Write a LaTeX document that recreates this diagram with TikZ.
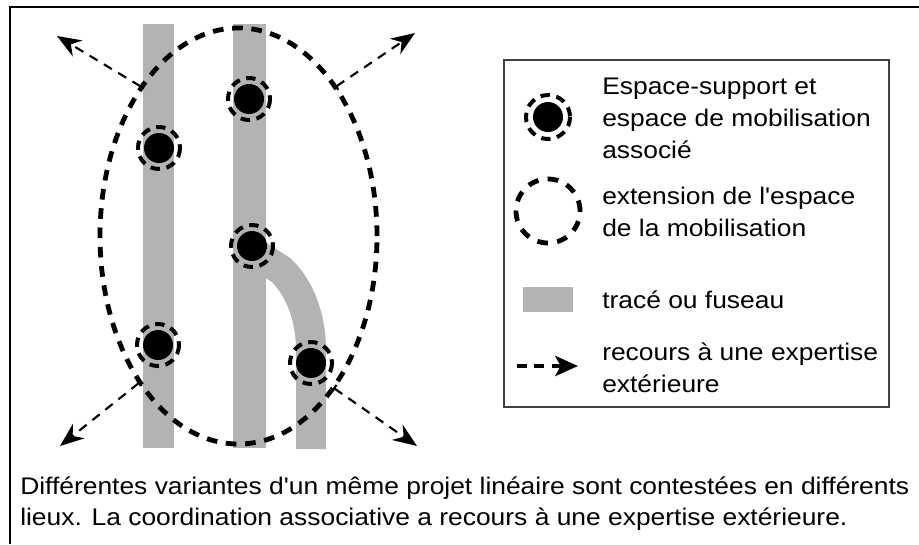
\documentclass[tikz,border=0pt]{standalone}
\usepackage{fontspec}
\setmainfont[FakeStretch=1.1, Ligatures=TeXOff]{Liberation Sans}
\usetikzlibrary{arrows.meta,shapes.geometric}
\definecolor{fuseau}{RGB}{179,179,179}
\tikzset{
  site/.style={circle, fill=black, minimum size=22.5pt, inner sep=0pt},
  ring/.style={line width=3pt, dash pattern=on 7pt off 5pt},
  zone/.style={ellipse, draw, line width=3.6pt, dash pattern=on 8pt off 6.5pt,
    minimum width=207.75pt, minimum height=312pt, inner sep=0pt, outer sep=0pt},
  recours/.style={{Bar[width=6pt]}-{Stealth[length=18pt,width=14pt]},
    line width=1.6pt, dash pattern=on 7pt off 5.5pt},
  legarrow/.style={-{Stealth[length=17pt,width=15pt,inset=4pt]},
    line width=3.4pt, dash pattern=on 7.5pt off 5.5pt},
  legtext/.style={anchor=west, align=left, inner sep=0pt,
    font=\fontsize{18}{24}\selectfont},
  captext/.style={anchor=base west, inner sep=0pt,
    font=\fontsize{18}{23}\selectfont},
}
\begin{document}
\begin{tikzpicture}[x=0.75pt, y=-0.75pt]
  \useasboundingbox (0,0) rectangle (919,544);
  %% -- frame --------------------------------------------------
  \draw[line width=2pt] (10,544) -- (10,7) -- (919,7);

  %% -- traces (fuseaux) ---------------------------------------
  \fill[fuseau] (143,24) rectangle (174,448);
  \fill[fuseau] (233,24) rectangle (266,448);
  \draw[fuseau, line width=22.5pt]
    (250,250) -- (281,270) .. controls (300,288) and (311,318) .. (311,350) -- (311,449);

  %% -- extension of the mobilisation -------------------------
  \node[zone] (zone) at (238.5,236) {};

  %% -- espaces-support ----------------------------------------
  \foreach \n/\x/\y in {s1/249/99, s2/159/148, s3/252/246, s4/158/345, s5/311/363}{
    \node[site] (\n) at (\x,\y) {};
    \draw[ring] (\n) circle (21);
  }

  %% -- recours a une expertise exterieure --------------------
  \coordinate (tl) at (57,36);
  \coordinate (tr) at (415,33);
  \coordinate (bl) at (60,446);
  \coordinate (br) at (417,446);
  \draw[recours] (zone.123) -- (tl);
  \draw[recours] (zone.57)  -- (tr);
  \draw[recours] (zone.236) -- (bl);
  \draw[recours] (zone.302) -- (br);

  %% -- legend -------------------------------------------------
  \draw[black!75, line width=1.1pt] (504,60) rectangle (889,407);
  \node[site] (k1) at (548,117) {};
  \draw[ring] (k1) circle (22);
  \node[legtext] (t1) at (602,118) {Espace-support et\\espace de mobilisation\\associé};
  \node[circle, draw, line width=3.6pt, dash pattern=on 8pt off 7pt,
    minimum size=48pt, inner sep=0pt] (k2) at (548,211) {};
  \node[legtext] (t2) at (602,212) {extension de l'espace\\de la mobilisation};
  \node[fill=fuseau, minimum width=37.5pt, minimum height=18.75pt, inner sep=0pt] (k3) at (548,299.5) {};
  \node[legtext] (t3) at (602,300) {tracé ou fuseau};
  \coordinate (k4a) at (517,366);
  \coordinate (k4b) at (578,366);
  \draw[legarrow] (k4a) -- (k4b);
  \node[legtext] (t4) at (602,368) {recours à une expertise\\extérieure};

  %% -- caption ------------------------------------------------
  \node[captext] (cap1) at (20,494) {Différentes variantes d'un même projet linéaire sont contestées en différents};
  \node[captext] (cap2) at (20,525) {lieux. La coordination associative a recours à une expertise extérieure.};
\end{tikzpicture}
\end{document}
